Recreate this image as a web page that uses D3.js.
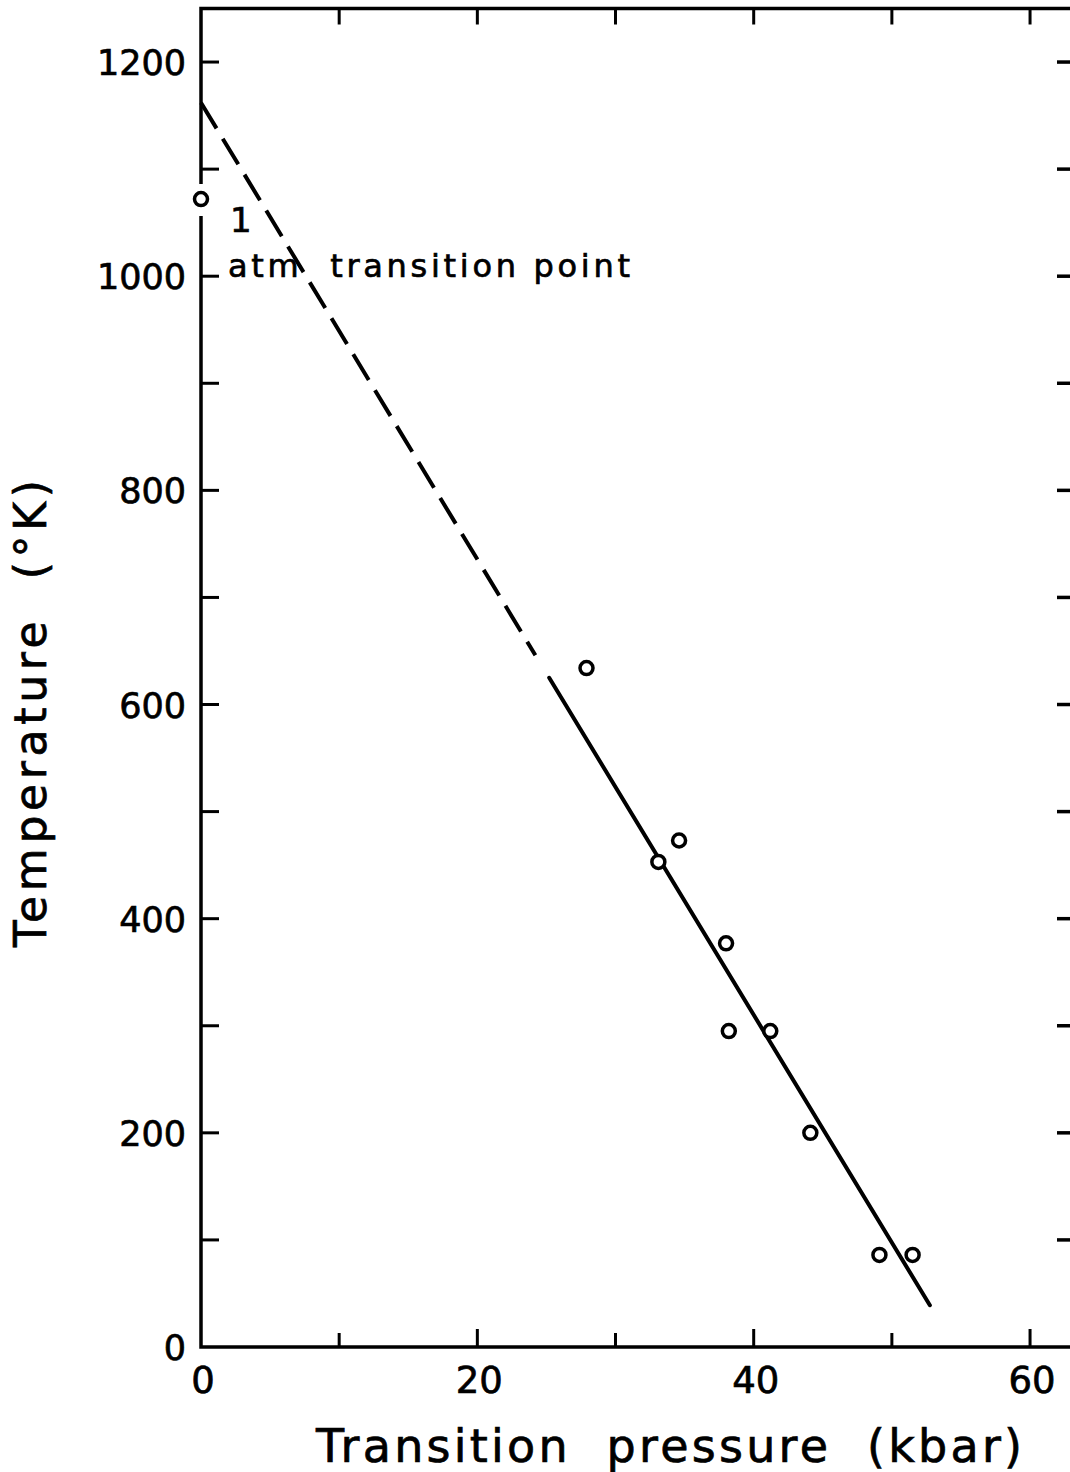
<!doctype html>
<html>
  <head>
    <meta charset="utf-8" />
    <title>Transition pressure vs temperature</title>
    <style>
      body { margin: 0; background: #fff; }
      svg { display: block; }
      text { font-family: "DejaVu Sans", sans-serif; fill: #000; stroke: #000; stroke-width: 0.7px; }
    </style>
  </head>
  <body>
    <svg id="chart" width="1070" height="1472"></svg>
    <script src="https://d3js.org/d3.v7.min.js"></script>
    <script>
      // measured points (kbar, K)
      const pressure = [0, 27.9, 33.1, 34.6, 38.0, 38.2, 41.2, 44.1, 49.1, 51.5];
      const temperature = [1072, 634, 453, 473, 377, 295, 295, 200, 86, 86];

      // fitted line: dashed extrapolation, then solid part
      const dashedP = [0, 24.2];
      const dashedT = [1162, 646];
      const solidP = [25.2, 52.75];
      const solidT = [625, 39];

      const xTickLabels = [0, 20, 40, 60];
      const yTickLabels = [0, 200, 400, 600, 800, 1000, 1200];

      const svg = d3.select('#chart');
      const x = d3.scaleLinear().domain([0, 63]).range([201, 1071.5]);
      const y = d3.scaleLinear().domain([0, 1250]).range([1347, 8.5]);

      const frame = svg.append('g');
      // box
      frame.append('rect')
        .attr('x', x(0)).attr('y', y(1250))
        .attr('width', 1074 - x(0)).attr('height', y(0) - y(1250))
        .attr('fill', 'none').attr('stroke', '#000').attr('stroke-width', 3.5);

      // ticks: every 10 kbar, every 100 K, pointing in
      const xTicks = d3.range(10, 61, 10);
      const yTicks = d3.range(100, 1201, 100);
      frame.selectAll('.tb').data(xTicks).join('line')
        .attr('x1', d => x(d)).attr('x2', d => x(d))
        .attr('y1', y(0)).attr('y2', d => y(0) - (d % 20 === 0 ? 18 : 14))
        .attr('stroke', '#000').attr('stroke-width', 3);
      frame.selectAll('.tt').data(xTicks).join('line')
        .attr('x1', d => x(d)).attr('x2', d => x(d))
        .attr('y1', y(1250)).attr('y2', y(1250) + 16)
        .attr('stroke', '#000').attr('stroke-width', 3);
      frame.selectAll('.tl').data(yTicks).join('line')
        .attr('x1', x(0)).attr('x2', x(0) + 18)
        .attr('y1', d => y(d)).attr('y2', d => y(d))
        .attr('stroke', '#000').attr('stroke-width', 3);
      frame.selectAll('.tr').data(yTicks).join('line')
        .attr('x1', 1074).attr('x2', 1057)
        .attr('y1', d => y(d)).attr('y2', d => y(d))
        .attr('stroke', '#000').attr('stroke-width', 3.5);

      // gap in the left axis around the 1 atm point
      frame.append('line')
        .attr('x1', x(0)).attr('x2', x(0))
        .attr('y1', 184).attr('y2', 216)
        .attr('stroke', '#fff').attr('stroke-width', 5);

      // tick labels
      svg.selectAll('.xl').data(xTickLabels).join('text')
        .attr('x', d => x(d) + 2).attr('y', 1393)
        .attr('text-anchor', 'middle')
        .attr('font-size', 37)
        .text(d => d);
      svg.selectAll('.yl').data(yTickLabels).join('text')
        .attr('x', 186).attr('y', d => y(d) + 13)
        .attr('text-anchor', 'end')
        .attr('font-size', 35)
        .text(d => d);

      // axis titles
      svg.append('text')
        .attr('x', 316).attr('y', 1462)
        .attr('font-size', 46)
        .attr('textLength', 706).attr('lengthAdjust', 'spacing')
        .style('white-space', 'pre')
        .text('Transition  pressure  (kbar)');
      svg.append('text')
        .attr('transform', 'translate(46,947) rotate(-90)')
        .attr('font-size', 44)
        .attr('textLength', 467).attr('lengthAdjust', 'spacing')
        .style('white-space', 'pre')
        .text('Temperature  (°K)');

      // fitted line
      const line = d3.line().x(d => x(d[0])).y(d => y(d[1]));
      svg.append('path')
        .datum(d3.zip(dashedP, dashedT))
        .attr('d', line)
        .attr('fill', 'none').attr('stroke', '#000')
        .attr('stroke-width', 4).attr('stroke-dasharray', '30,12');
      svg.append('path')
        .datum(d3.zip(solidP, solidT))
        .attr('d', line)
        .attr('fill', 'none').attr('stroke', '#000')
        .attr('stroke-width', 4).attr('stroke-linecap', 'round');

      // annotation
      svg.append('text')
        .attr('x', 230).attr('y', 232)
        .attr('font-size', 34)
        .text('1');
      svg.append('text')
        .attr('x', 228).attr('y', 277)
        .attr('font-size', 32)
        .attr('textLength', 402).attr('lengthAdjust', 'spacing')
        .style('white-space', 'pre')
        .text('atm  transition point');

      // points
      svg.selectAll('.pt').data(d3.zip(pressure, temperature)).join('circle')
        .attr('cx', d => x(d[0])).attr('cy', d => y(d[1]))
        .attr('r', 6.5)
        .attr('fill', '#fff').attr('stroke', '#000').attr('stroke-width', 3.5);
    </script>
  </body>
</html>
